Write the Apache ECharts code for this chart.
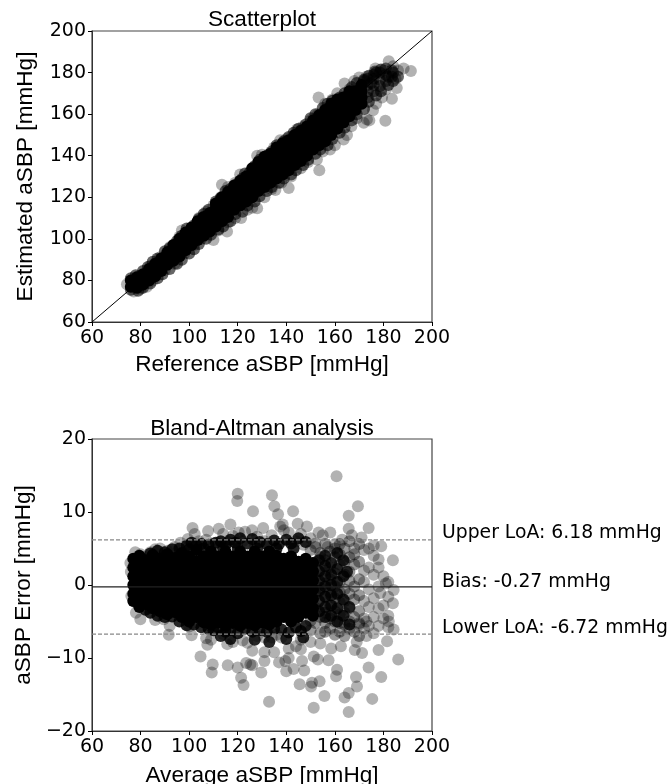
<!DOCTYPE html>
<html><head><meta charset="utf-8">
<style>html,body{margin:0;padding:0;background:#fff}#c{width:670px;height:784px}</style>
<script src="https://cdn.jsdelivr.net/npm/echarts@6/dist/echarts.min.js"></script>
</head><body><div id="c"></div>
<script>
const titles = ['Scatterplot', 'Bland-Altman analysis'];
const xNames = ['Reference aSBP [mmHg]', 'Average aSBP [mmHg]'];
const yNames = ['Estimated aSBP [mmHg]', 'aSBP Error [mmHg]'];
const notes = ['Upper LoA: 6.18 mmHg', 'Bias: -0.27 mmHg', 'Lower LoA: -6.72 mmHg'];
const bias = -0.27, upperLoA = 6.18, lowerLoA = -6.72;
const identityLine = [[60, 60], [200, 200]];

// Scatterplot: the saturated band, by column of reference value
const scCoreX = [76,78.5,81,83.5,86,88.5,91,93.5,96,98.5,101,103.5,106,108.5,111,113.5,116,118.5,121,123.5,126,128.5,131,133.5,136,138.5,141,143.5,146,148.5,151,153.5,156,158.5,161,163.5,166,168.5,171];
const scCoreY = [[77,80],[76.5,79,81.5],[78,80.5,83],[80,82.5,85.5],[82,85,88],[84.5,87.5,90.5],[87.5,90.5,93.5],[89.5,92.5,95.5,97],[91.5,94.5,97.5,100],[94.5,97.5,100.5,103],[97,100,103,105.5],[99.5,102.5,105.5,108.5],[101.5,104.5,107.5,110.5],[103.5,106.5,109.5,112.5],[106,109,112,115,117],[108.5,111.5,114.5,117.5,120],[110.5,113.5,116.5,119.5,122.5],[114,117,120,123,125.5],[116,119,122,125,128],[118,121,124,127,130],[120,123,126,129,132,134],[123,126,129,132,135,137],[125,128,131,134,137,139.5],[127,130,133,136,139,141],[129,132,135,138,141,144],[131,134,137,140,143,146],[133,136,139,142,145,147.5],[135.5,138.5,141.5,144.5,147.5,150],[137.5,140.5,143.5,146.5,149.5,152],[140,143,146,149,152,154],[143,146,149,152,155,157],[145,148,151,154,157,159.5],[147,150,153,156,159,162],[150,153,156,159,162,165],[153,156,159,162,165,167],[156,159,162,165,168],[159,162,165,168,171],[162,165,168,171],[165,168,171,174]];
// Scatterplot: upper end, thinner than the band
const scEnd = [[172,176],[173.5,168],[173.5,171],[173.5,174],[173.5,177],[176,171],[176,174],[176,177],[176,179],[178.5,173.5],[178.5,176.5],[178.5,180],[181,176],[181,179],[181,182],[183.5,178],[183.5,181],[182,178],[184,180],[176.5,180.5],[175,175]];
// Scatterplot: edge and outlying points
const scEdge = [[79,82],[84,87],[88,91],[92,96],[96,101],[97,104],[101,105],[104,110],[107,113],[110,116],[113,120],[113.5,126],[116,125],[119,127],[121,131],[124,130],[126,134],[128,140],[130,140.5],[133,141],[135,144],[137.5,147.5],[140,148],[144.4,152.6],[147,154],[150,157],[153,160],[156,165],[159,167],[161,170],[164,174.7],[166,172],[168,176],[170,177.6],[173,178],[176.7,182],[180,181],[182.2,185.4],[184,183],[186,181],[188.3,182],[191.3,180.8],[74.4,78.2],[77.2,74.7],[80,76],[82.6,77],[85,80],[90,85],[94,88],[98,93],[102,97],[105,100],[110,99.5],[112,104],[115.6,103.5],[116,108],[119,110],[121.4,110],[124,114],[126,115],[128,114.7],[131,120],[134,124],[135.5,123.5],[138,127],[141,124.5],[142,130],[146,134],[149,137],[152.6,138.2],[153.6,133],[155,142],[158,143],[160,145],[163.6,147.8],[165,150],[166.8,154.2],[169,158],[171.9,155.8],[173.2,157.4],[174.2,157],[175.7,161.9],[177,165],[179.4,168],[183.5,167.4],[185.5,172.6],[180.8,156.8],[153.3,168],[181,172],[185,177]];
const scRimTop = [[76,81],[78,82.5],[81,84.5],[83,86.5],[85,89],[87,90.5],[90,94],[92,95.5],[95,99],[97,101.5],[99,105],[102,106.5],[104,109.5],[106,112],[108,114],[111,118],[113,119.5],[115,123],[117,124],[119,126],[122,129],[123,131.5],[125,132],[127,135],[129,138],[132,140],[134,142],[136,145],[139,147],[141,149],[143,151],[145,153],[148,155],[150,158],[152,160],[155,163],[157,165],[159,166.5],[162,168],[164,170],[167,173],[169,175],[172,176.5],[174,178.5],[177,180],[179,181.5]];
const scRimLow = [[76,75.5],[79,75],[81,76.5],[84,78.5],[87,81],[89,83],[92,85.5],[95,88],[97,90],[100,93],[102,95],[104,97.5],[107,100],[109,102],[112,104.5],[114,106],[117,108.5],[119,112],[122,113],[124,116],[127,118],[129,120.5],[132,123],[134,125],[137,127],[139,129],[142,131],[144,133],[147,135.5],[149,138],[152,141],[154,143],[157,145],[159,148],[162,151],[164,153.5],[167,157],[169,160],[172,162.5],[174,166],[177,169],[179,171],[182,174],[184,176],[186,178]];

// Bland-Altman: the saturated block, by column of average value
const baCoreX = [77,79.5,82,85,88,91,94,97,100,103,106,109,112,115,118,121,124,127,130,133,136,139,142,145,148,151];
const baCoreY = [[3.6,2.4,1.2,0,-1.2,-2.2],[4,2.9,1.7,0.5,-0.7,-1.9,-3],[3.4,2.2,1,-0.2,-1.4,-2.6],[4.1,2.9,1.7,0.5,-0.7,-1.9,-3.2],[3.6,2.4,1.2,0,-1.2,-2.4,-3.6],[4.2,3,1.8,0.6,-0.6,-1.8,-3,-4],[3.7,2.5,1.3,0,-1.3,-2.5,-3.7],[4.4,3.2,1.9,0.6,-0.6,-1.9,-3.2,-4.4],[3.9,2.6,1.3,0,-1.3,-2.6,-3.9,-5],[4.8,3.3,1.9,0.6,-0.6,-1.9,-3.2,-4.4],[3.9,2.6,1.3,0,-1.3,-2.6,-3.9,-5.1],[4.6,3.2,1.9,0.6,-0.6,-1.9,-3.2,-4.5,-5.4],[3.9,2.6,1.3,0,-1.3,-2.6,-3.9,-5.1],[4.6,3.2,1.9,0.6,-0.6,-1.9,-3.2,-4.5,-5.6],[3.9,2.6,1.3,0,-1.3,-2.6,-3.9,-5.2],[4.6,3.2,1.9,0.6,-0.6,-1.9,-3.2,-4.5,-5.6],[3.9,2.6,1.3,0,-1.3,-2.6,-3.9,-5.2],[4.6,3.2,1.9,0.6,-0.6,-1.9,-3.2,-4.5,-5.5],[3.9,2.6,1.3,0,-1.3,-2.6,-3.9,-5.1],[4.6,3.2,1.9,0.6,-0.6,-1.9,-3.2,-4.5,-5.4],[4,2.6,1.3,0,-1.3,-2.6,-3.9,-5],[3.6,3,1.9,0.6,-0.6,-1.9,-3.2,-4.4],[3.9,2.6,1.3,0,-1.3,-2.6,-3.9,-5],[3.2,1.9,0.6,-0.6,-1.9,-3.2,-4.4],[3.6,2.5,1.3,0,-1.3,-2.6,-3.8],[3,1.9,0.6,-0.6,-1.9,-3.2,-4.2]];
// Bland-Altman: block fading out on its right side
const baFade = [[153.5,3.4],[153.5,1.9],[153.5,0.6],[153.5,-0.8],[153.5,-2.2],[153.5,-3.6],[156,4],[156,2.6],[156,1.2],[156,-0.2],[156,-1.6],[156,-3],[156,-4.4],[158.5,3],[158.5,1.4],[158.5,0],[158.5,-1.4],[158.5,-2.8],[158.5,-4.2],[161,4.4],[161,2.2],[161,0.4],[161,-1.2],[161,-3.2],[161,-5],[163.5,3.4],[163.5,1.2],[163.5,-2],[163.5,-4.2],[166,-3],[166,-5.4],[165,1.8]];
// Bland-Altman: upper side and high outliers
const baUpper = [[160.7,14.9],[120,12.5],[119.8,11.5],[134.1,12.3],[135.1,10.8],[136.6,9.7],[126.3,10.1],[142.8,10.1],[169.5,10.8],[165.7,9.5],[165.7,7.7],[173.9,7.8],[138.5,8.3],[137.5,8],[139,7.5],[144.7,8.4],[148.5,8],[117,8.3],[112.2,7.7],[107.8,7.4],[101.4,7.8],[102.3,7],[99.5,6.3],[130.5,7.8],[125.9,7.5],[123,7.3],[120.4,7.2],[158.1,7.2],[153.3,7.2],[155,6.8],[150,6.4],[146,7],[141,7.2],[134,6.8],[128,6.6],[118,6.7],[114,7],[110,5.7],[107,6.2],[104,6],[96.4,5.8],[94,5.2],[91,4.7],[88,5],[86,4.9],[84,4.5],[80,4.2],[77.8,4.5],[75.8,3],[76,1.8],[76.2,-1.5],[78,-2.4],[131,6],[127,5.6],[122,6],[116,5.9],[112,5.4],[144,6],[147,5.5],[152,5.7],[157,5.2],[160,5.6],[163,6.2],[167,6.8],[171,6.5],[176,5.4],[179.1,5.3],[168,5],[178,3.5],[183.9,3.4],[181,0.2],[184.2,-0.7],[183.9,-2.5]];
// Bland-Altman: lower side and low outliers
const baLower = [[186.1,-10.2],[179.1,-12.6],[173.9,-11.3],[175.4,-15.6],[165.7,-17.4],[165.7,-14.8],[164,-15.4],[169.1,-13.9],[168.7,-12.6],[160.9,-11.6],[160.5,-12.5],[155.7,-15.2],[151.3,-16.8],[132.9,-16],[153.7,-13.2],[150.2,-13.9],[150.6,-13.4],[145.5,-13.6],[147.4,-11.7],[143,-11.5],[140,-11.8],[139.6,-10.4],[141,-10],[146.5,-10.4],[151.3,-9.8],[153,-10.2],[157.4,-10.3],[129.7,-12],[125.2,-10.9],[123.5,-10.7],[126,-11],[121.4,-12.7],[122.4,-13.7],[120,-11.3],[115.9,-11],[109.7,-10.9],[109.3,-12],[104.7,-9.8],[143.3,-20.2],[91.6,-6.8],[89.5,-4.7],[92,-5.6],[86,-4.8],[79.9,-4.7],[78.1,-3.8],[184.2,-6.1],[181.5,-7.7],[178,-8.9],[171.2,-9.3],[168.2,-8.9],[162.5,-8.4],[158.5,-8.7],[182.2,-5],[173,-7],[169,-7.8],[146,-7.5],[146,-8.8],[144,-8.4],[150,-7.8],[154,-8],[138,-7.2],[136,-6.8],[134,-7.2],[131,-7.2],[128,-7],[124,-7.9],[122,-7.6],[126,-9],[131,-9.2],[131,-10.4],[135,-9.2],[137,-10.6],[141,-8.7],[118,-7.8],[115.7,-8.1],[114,-6.7],[109,-7.5],[107,-7.3],[107.5,-8.2],[101,-6.9],[100,-5.7]];
// Bland-Altman: thinning right part, by column
const baThinX = [150,152,154,156,158,160,162,164,166,168,170];
const baThinY = [[4.8,2.6,-2,-4.9,-6.2],[5.2,3.1,1.1,-0.9,-3.1,-5.2],[4.4,3.8,-0.4,-4.4,-6.6],[5.6,3.4,2,0.2,-1.6,-3.8,-5.2,-6.4],[4.6,2.4,0.8,-1,-2.8,-4.6,-6],[5,3.8,1.6,-0.2,-1.8,-3.6,-5,-6.8],[5.6,4.2,2.8,0.4,-1,-2.4,-4,-5.2,-6.4],[5,3.2,1.4,-0.6,-2.2,-3.8,-5.4,-7],[6,3.8,1.8,0.6,-1.2,-3.2,-5,-6],[4.2,2.8,-0.2,-2,-4.4,-6.4],[5.6,3.2,0.8,-1.4,-3.6,-5.2,-7]];
const baSparse = [[172,4.8],[172,2],[172,0.4],[172,-2.2],[172,-4.6],[172,-6],[174,5],[174,2.4],[174,-0.6],[174,-3],[174,-5.6],[176,4],[176,1.4],[176,-1.8],[176,-4.4],[176,-6.6],[178,2.4],[178,-0.2],[178,-3.2],[178,-5.6],[180,1.2],[180,-2.8],[180,-4.6],[182,0.4],[182,-1.6],[182,-4.2],[182,-5.8],[173,-5],[170,-5.4],[178.7,-1.1]];
// Bland-Altman: darker bands just outside the block
const baBandTop = [[84,4.3],[87,4.7],[90,4.5],[93,4.9],[96,5],[99,5.4],[101,5.8],[103,5.4],[105,5.6],[108,5.5],[111,5.8],[113,6],[115,5.5],[117,6.2],[119,5.8],[121,6.4],[124,5.7],[126,6.3],[129,5.9],[132,5.6],[135,6.1],[137,5.6],[140,6.2],[142,5.7],[145,6.4],[148,5.9],[100,4.9],[106,5],[114,5],[120,5],[128,5],[136,5],[143,5]];
const baBandLow = [[82,-3.4],[84,-3.8],[87,-4.2],[90,-4.4],[93,-4.3],[96,-5],[99,-5.5],[102,-5.4],[105,-5.8],[108,-6],[110,-6.2],[112,-5.8],[115,-6.4],[117,-6.2],[120,-6.6],[123,-6],[126,-6.4],[129,-6.2],[132,-6.4],[135,-6],[138,-6.1],[141,-6.5],[144,-5.8],[146,-6.3],[148,-5.6],[113,-7],[117,-7.4],[127,-7.5],[133,-7.8],[140,-7.4],[147,-7.2]];

const MINUS = v => String(v).replace('-', '\u2212');
const tickFont = {fontFamily: 'DejaVu Sans', fontSize: 19, color: '#000'};
const nameFont = {fontFamily: 'Liberation Sans', fontSize: 22.6, color: '#000'};
const titleFont = {fontFamily: 'Liberation Sans', fontSize: 22.6, fontWeight: 'normal', color: '#000'};

const expand = (xs, ys) => xs.flatMap((x, i) => ys[i].map(y => [x, y]));
const scCore = expand(scCoreX, scCoreY);
const baCore = expand(baCoreX, baCoreY);
const baThin = expand(baThinX, baThinY);

function dots(g, data, opacity) {
  return {type: 'scatter', xAxisIndex: g, yAxisIndex: g, data, symbolSize: 12, silent: true,
    itemStyle: {color: '#000', opacity, borderWidth: 0}};
}
function line(g, data, color, width, dash) {
  return {type: 'line', xAxisIndex: g, yAxisIndex: g, data, symbol: 'none', silent: true, z: 5,
    lineStyle: {color, width, type: dash ? [4, 2] : 'solid'}};
}
function xAxis(g, name, gap) {
  return {gridIndex: g, type: 'value', min: 60, max: 200, interval: 20, name, nameLocation: 'middle', nameGap: gap,
    nameTextStyle: nameFont, splitLine: {show: false},
    axisLine: {show: true, onZero: false, lineStyle: {color: '#333', width: 1}},
    axisTick: {show: true, length: 4, lineStyle: {color: '#000'}},
    axisLabel: {...tickFont, margin: 7, showMinLabel: true, showMaxLabel: true, hideOverlap: false}};
}
function yAxis(g, name, min, max, interval, gap) {
  return {gridIndex: g, type: 'value', min, max, interval, name, nameLocation: 'middle', nameGap: gap,
    nameTextStyle: nameFont, splitLine: {show: false},
    axisLine: {show: true, onZero: false, lineStyle: {color: '#333', width: 1}},
    axisTick: {show: true, length: 4, lineStyle: {color: '#000'}},
    axisLabel: {...tickFont, margin: 6, formatter: MINUS, showMinLabel: true, showMaxLabel: true, hideOverlap: false}};
}
const frame = {show: true, borderColor: '#444', borderWidth: 1.2, backgroundColor: 'transparent', left: 92, width: 340, outerBoundsMode: 'none'};
const option = {
  animation: false,
  backgroundColor: '#fff',
  title: [
    {text: titles[0], left: 257, top: 3, textAlign: 'center', textStyle: titleFont},
    {text: titles[1], left: 257, top: 412, textAlign: 'center', textStyle: titleFont}
  ],
  grid: [{...frame, top: 31, height: 291}, {...frame, top: 439, height: 292}],
  xAxis: [xAxis(0, xNames[0], 31), xAxis(1, xNames[1], 33)],
  yAxis: [yAxis(0, yNames[0], 60, 200, 20, 55), yAxis(1, yNames[1], -20, 20, 10, 46)],
  series: [
    dots(0, scEdge, 0.3),
    dots(0, scRimTop, 0.6),
    dots(0, scRimLow, 0.6),
    dots(0, scEnd, 0.55),
    dots(0, scCore, 1),
    line(0, identityLine, '#000', 1, false),
    dots(1, baUpper, 0.3),
    dots(1, baLower, 0.3),
    dots(1, baSparse, 0.3),
    dots(1, baThin, 0.4),
    dots(1, baBandTop, 0.85),
    dots(1, baBandLow, 0.85),
    dots(1, baFade, 0.8),
    dots(1, baCore, 1),
    line(1, [[60, bias], [200, bias]], '#222', 1.3, false),
    line(1, [[60, upperLoA], [200, upperLoA]], '#888', 1.2, true),
    line(1, [[60, lowerLoA], [200, lowerLoA]], '#888', 1.2, true)
  ],
  graphic: [532, 581, 627].map((y, i) => ({type: 'text', left: 442, top: y - 8, silent: true,
    style: {text: notes[i], fontFamily: 'DejaVu Sans', fontSize: 18.8, fill: '#000'}}))
};
echarts.init(document.getElementById('c'), null, {renderer: 'canvas'}).setOption(option);
</script></body></html>
